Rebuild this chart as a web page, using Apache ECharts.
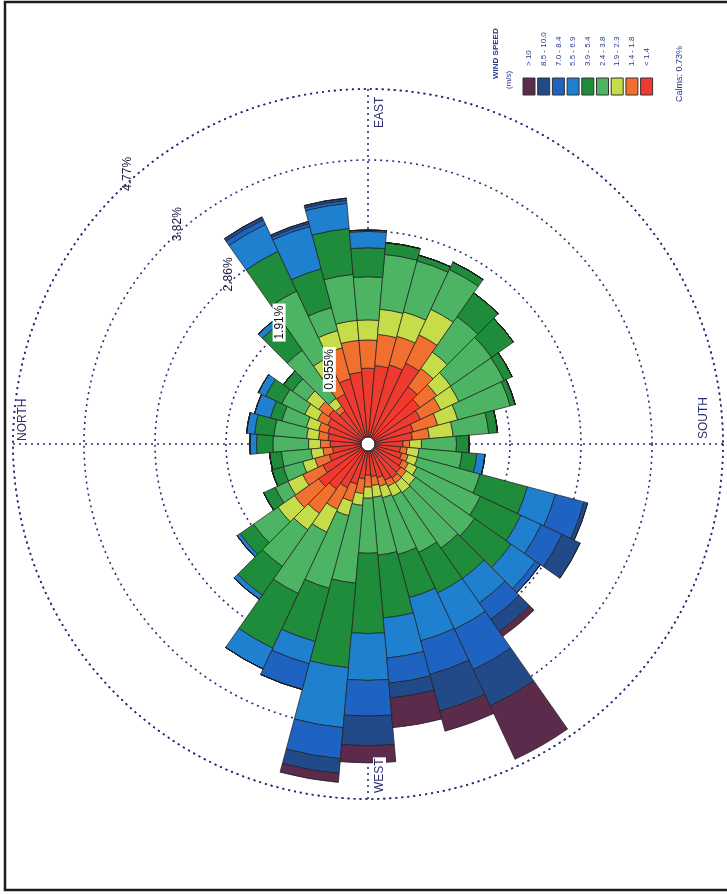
<!DOCTYPE html>
<html>
<head>
<meta charset="utf-8">
<script src="https://cdn.jsdelivr.net/npm/echarts@6/dist/echarts.min.js"></script>
<style>
  html, body { margin: 0; padding: 0; background: #fff; }
  #chart { width: 727px; height: 894px; }
</style>
</head>
<body>
<div id="chart"></div>
<script>
// compass bearings of the 36 sectors (N = 0)
const directions = ['0', '10', '20', '30', '40', '50', '60', '70', '80', '90', '100', '110',
  '120', '130', '140', '150', '160', '170', '180', '190', '200', '210', '220', '230',
  '240', '250', '260', '270', '280', '290', '300', '310', '320', '330', '340', '350']

const speedClasses = ['< 1.4', '1.4 - 1.8', '1.9 - 2.3', '2.4 - 3.8', '3.9 - 5.4', '5.5 - 6.9', '7.0 - 8.4', '8.5 - 10.0', '> 10']
const speedColors = ['#ee3a2f', '#f2702f', '#c6dc48', '#4cb462', '#1f8c3b', '#1f80cf', '#1e62c2', '#234a88', '#5c2b4c']

const ringTicks = [0.955, 1.91, 2.865, 3.82, 4.775]
const ringLabels = ['0.955%', '1.91%', '2.86%', '3.82%', '4.77%']
const compassLabels = ['NORTH', 'EAST', 'SOUTH', 'WEST']
const calmsText = 'Calms: 0.73%'

// frequency (%) per sector for each speed class
const below14 = [0.51, 0.54, 0.56, 0.60, 0.65, 0.54, 0.74, 0.91, 0.97, 1.02, 1.06, 1.10, 1.20, 0.94, 0.85, 0.78, 0.63, 0.60,
  0.47, 0.44, 0.47, 0.51, 0.54, 0.56, 0.54, 0.47, 0.44, 0.42, 0.47, 0.56, 0.65, 0.74, 0.81, 0.67, 0.54, 0.48]
const s14to18 = [0.13, 0.13, 0.13, 0.15, 0.16, 0.08, 0.34, 0.43, 0.43, 0.38, 0.42, 0.40, 0.42, 0.30, 0.28, 0.30, 0.34, 0.23,
  0.09, 0.09, 0.09, 0.09, 0.09, 0.08, 0.09, 0.12, 0.12, 0.16, 0.20, 0.24, 0.32, 0.40, 0.40, 0.30, 0.20, 0.13]
const s19to23 = [0.16, 0.16, 0.17, 0.19, 0.20, 0.13, 0.20, 0.24, 0.27, 0.27, 0.34, 0.34, 0.38, 0.27, 0.23, 0.27, 0.28, 0.32,
  0.16, 0.16, 0.13, 0.13, 0.15, 0.16, 0.15, 0.16, 0.16, 0.15, 0.16, 0.20, 0.34, 0.27, 0.27, 0.22, 0.17, 0.16]
const s24to38 = [0.48, 0.44, 0.34, 0.34, 0.23, 0.79, 0.99, 0.32, 0.62, 0.58, 0.74, 0.71, 0.59, 0.58, 0.67, 0.67, 0.73, 0.48,
  0.47, 0.58, 0.87, 0.94, 0.97, 0.91, 0.83, 0.79, 0.78, 0.74, 1.05, 1.01, 0.91, 0.60, 0.40, 0.19, 0.27, 0.40]
const s39to54 = [0.22, 0.26, 0.16, 0.24, 0.15, 0.47, 0.59, 0.54, 0.62, 0.39, 0.16, 0.08, 0.11, 0.39, 0.36, 0.12, 0.07, 0.12,
  0.17, 0.20, 0.66, 0.60, 0.60, 0.50, 0.60, 0.60, 0.85, 1.08, 1.14, 0.74, 0.81, 0.47, 0.22, 0.17, 0.16, 0.16]
const s55to69 = [0.09, 0.11, 0.22, 0.11, 0, 0.08, 0.40, 0.59, 0.34, 0.22, 0, 0, 0, 0, 0, 0, 0, 0,
  0, 0.11, 0.39, 0.30, 0.40, 0.40, 0.54, 0.60, 0.54, 0.63, 0.81, 0.31, 0.31, 0.07, 0.05, 0, 0, 0]
const s70to84 = [0, 0, 0, 0, 0, 0, 0.07, 0.04, 0.04, 0.02, 0, 0, 0, 0, 0, 0, 0, 0,
  0, 0, 0.40, 0.31, 0.08, 0.27, 0.60, 0.47, 0.34, 0.48, 0.42, 0.36, 0, 0, 0, 0, 0, 0]
const s85to100 = [0, 0, 0, 0, 0, 0, 0.04, 0.03, 0.03, 0, 0, 0, 0, 0, 0, 0, 0, 0,
  0, 0, 0.05, 0.27, 0, 0.20, 0.54, 0.51, 0.20, 0.40, 0.20, 0, 0, 0, 0, 0, 0, 0]
const above10 = [0, 0, 0, 0, 0, 0, 0, 0, 0, 0, 0, 0, 0, 0, 0, 0, 0, 0,
  0, 0, 0, 0, 0, 0.08, 0.79, 0.28, 0.40, 0.23, 0.12, 0, 0, 0, 0, 0, 0, 0]

const classValues = [below14, s14to18, s19to23, s24to38, s39to54, s55to69, s70to84, s85to100, above10]

const center = [368, 444]
const outerRadius = 355
const dotColor = '#2b2d7a'
const textColor = '#2d2f70'
const legendColor = '#2a3a8c'
const fontFamily = '"Liberation Sans", Arial, sans-serif'

const chart = echarts.init(document.getElementById('chart'), null, { renderer: 'canvas' })

const hiddenRadius = {
  type: 'value', min: 0, max: ringTicks[ringTicks.length - 1],
  axisLine: { show: false }, axisTick: { show: false }, axisLabel: { show: false }, splitLine: { show: false },
}
const dotted = { color: dotColor, width: 1.6, type: [2, 4] }

chart.setOption({
  animation: false,
  backgroundColor: '#fff',
  polar: [
    { center, radius: outerRadius },
    { center, radius: outerRadius },
  ],
  angleAxis: [
    {
      polarIndex: 0,
      type: 'category',
      data: directions,
      startAngle: 185,
      clockwise: true,
      axisLine: { show: false },
      axisTick: { show: false },
      axisLabel: { show: false },
      splitLine: { show: false },
    },
    {
      polarIndex: 1,
      type: 'value',
      min: 0,
      max: 360,
      interval: 90,
      startAngle: 180,
      clockwise: true,
      axisLine: { show: true, lineStyle: dotted },
      axisTick: { show: false },
      axisLabel: { show: false },
      splitLine: { show: true, lineStyle: dotted },
    },
  ],
  radiusAxis: [
    { ...hiddenRadius, polarIndex: 0 },
    { ...hiddenRadius, polarIndex: 1, interval: ringTicks[0], splitLine: { show: true, lineStyle: dotted } },
  ],
  series: classValues.map((values, i) => ({
    type: 'bar',
    name: speedClasses[i],
    coordinateSystem: 'polar',
    polarIndex: 0,
    stack: 'wind',
    barCategoryGap: '0%',
    data: values,
    itemStyle: { color: speedColors[i], borderColor: '#1c1c1c', borderWidth: 0.7 },
    z: 5,
  })),
})

const textStyle = (text, size, extra) => ({
  text, fill: textColor, fontSize: size, fontFamily, align: 'left', verticalAlign: 'top', ...extra,
})

const graphics = []

// frame of the scanned page
graphics.push({ type: 'rect', z: 50, shape: { x: 5, y: 2, width: 740, height: 888 }, style: { fill: null, stroke: '#1e1e1e', lineWidth: 2.5 } })

// centre hole
graphics.push({ type: 'circle', z: 60, shape: { cx: center[0], cy: center[1], r: 7 }, style: { fill: '#fff', stroke: '#111', lineWidth: 1 } })

// ring labels sit on the 45 degree bearing
ringTicks.forEach((v, i) => {
  const p = chart.convertToPixel({ polarIndex: 1 }, [v, 45])
  graphics.push({
    type: 'text', z: 60, x: p[0] + 5, y: p[1] - 2, rotation: Math.PI / 2,
    style: textStyle(ringLabels[i], 12, i < 2 ? { backgroundColor: '#fff', padding: [1, 2, 0, 2], fill: '#111' } : { fill: '#1a1a40' }),
  })
})

// compass words, reading upwards
const compassPos = [[17, 441], [374, 128], [698, 439], [373, 794]]
compassLabels.forEach((t, i) => {
  graphics.push({
    type: 'text', z: 60, x: compassPos[i][0], y: compassPos[i][1], rotation: Math.PI / 2,
    style: textStyle(t, 12, i === 3 ? { backgroundColor: '#fff', padding: [1, 1, 0, 1] } : {}),
  })
})

// legend
graphics.push({ type: 'text', z: 60, x: 492, y: 79, rotation: Math.PI / 2, style: textStyle('WIND SPEED', 8, { fontWeight: 'bold', fill: legendColor }) })
graphics.push({ type: 'text', z: 60, x: 505, y: 89, rotation: Math.PI / 2, style: textStyle('(m/s)', 8, { fill: legendColor }) })
speedClasses.slice().reverse().forEach((label, i) => {
  const x = 523 + i * 14.7
  graphics.push({ type: 'rect', z: 60, shape: { x, y: 78, width: 12, height: 17 }, style: { fill: speedColors[speedClasses.length - 1 - i], stroke: '#333', lineWidth: 1 } })
  graphics.push({ type: 'text', z: 60, x: x + 2, y: 66, rotation: Math.PI / 2, style: textStyle(label, 8, { fill: legendColor }) })
})
graphics.push({ type: 'text', z: 60, x: 675, y: 102, rotation: Math.PI / 2, style: textStyle(calmsText, 9, { fill: legendColor }) })

chart.setOption({ graphic: graphics })
</script>
</body>
</html>
